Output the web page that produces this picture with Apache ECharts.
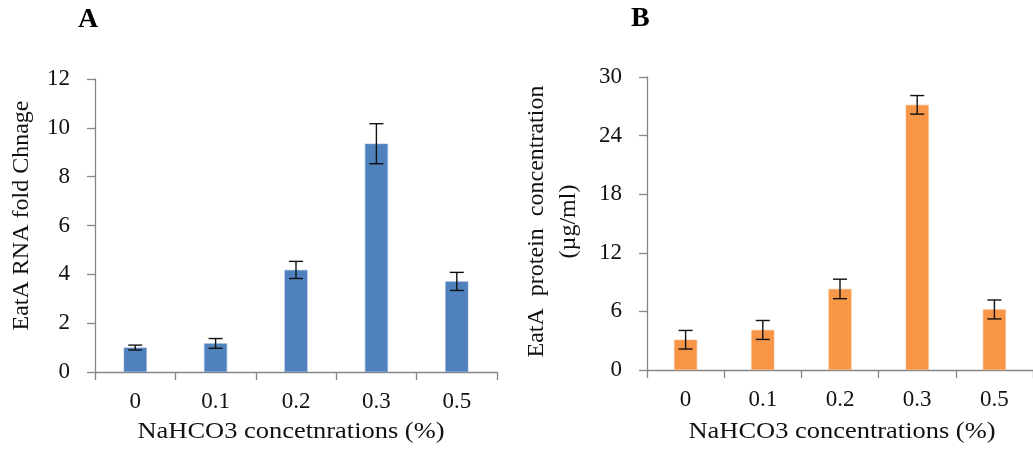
<!DOCTYPE html>
<html>
<head>
<meta charset="utf-8">
<script src="https://cdn.jsdelivr.net/npm/echarts@6/dist/echarts.min.js"></script>
<style>
  html, body { margin: 0; padding: 0; background: #fff; overflow: hidden; }
  #chart { width: 1033px; height: 450px; }
</style>
</head>
<body>
<div id="chart"></div>
<script>
// NaHCO3 concentrations (%)
const categories = ['0', '0.1', '0.2', '0.3', '0.5'];

// Panel A: EatA RNA fold change (mean and error)
const rnaFold = [1.0, 1.17, 4.18, 9.35, 3.71];
const rnaErr = [0.1, 0.2, 0.35, 0.82, 0.37];
const rnaAxisMax = 12;
const rnaAxisStep = 2;

// Panel B: EatA protein concentration in µg/ml (mean and error)
const proteinConc = [3.1, 4.1, 8.3, 27.15, 6.2];
const proteinErr = [0.95, 0.97, 1.0, 0.95, 0.97];
const proteinAxisMax = 30;
const proteinAxisStep = 6;

const FONT = '"Liberation Serif", "Times New Roman", serif';
const AXIS_GREY = '#868686';
const TEXT = '#111';

function xAxisFor(gridIndex) {
  return {
    type: 'category',
    gridIndex: gridIndex,
    data: categories,
    boundaryGap: true,
    axisLine: { show: true, lineStyle: { color: AXIS_GREY, width: 1.3 } },
    axisTick: { show: true, length: 8, alignWithLabel: false, lineStyle: { color: AXIS_GREY, width: 1.3 } },
    axisLabel: { fontFamily: FONT, fontSize: 23, color: TEXT, margin: 18, interval: 0 },
    splitLine: { show: false }
  };
}

function yAxisFor(gridIndex, max, step, name, nameGap, namePadding) {
  return {
    type: 'value',
    gridIndex: gridIndex,
    min: 0,
    max: max,
    interval: step,
    name: name,
    nameLocation: 'middle',
    nameGap: nameGap,
    nameTextStyle: { fontFamily: FONT, fontSize: 24, color: TEXT, lineHeight: 32, padding: namePadding },
    axisLine: { show: true, lineStyle: { color: AXIS_GREY, width: 1.3 } },
    axisTick: { show: true, length: 8, lineStyle: { color: AXIS_GREY, width: 1.3 } },
    axisLabel: { fontFamily: FONT, fontSize: 23, color: TEXT, margin: 25 },
    splitLine: { show: false }
  };
}

function errorBars(axisIndex, means, errs) {
  return {
    type: 'custom',
    xAxisIndex: axisIndex,
    yAxisIndex: axisIndex,
    z: 5,
    data: means.map((m, i) => [i, m - errs[i], m + errs[i]]),
    renderItem: function (params, api) {
      const x = api.value(0);
      const lo = api.coord([x, api.value(1)]);
      const hi = api.coord([x, api.value(2)]);
      const half = 7;
      const style = { stroke: '#111', lineWidth: 1.4 };
      return {
        type: 'group',
        children: [
          { type: 'line', shape: { x1: lo[0], y1: lo[1], x2: hi[0], y2: hi[1] }, style: style },
          { type: 'line', shape: { x1: hi[0] - half, y1: hi[1], x2: hi[0] + half, y2: hi[1] }, style: style },
          { type: 'line', shape: { x1: lo[0] - half, y1: lo[1], x2: lo[0] + half, y2: lo[1] }, style: style }
        ]
      };
    }
  };
}

// Horizontal axis titles, drawn slightly widened like the typeset figure
function axisTitle(text, cx, cy) {
  return {
    type: 'text',
    x: cx,
    y: cy,
    scaleX: 1.15,
    style: {
      text: text,
      font: '23px ' + FONT,
      fill: TEXT,
      align: 'center',
      verticalAlign: 'middle'
    }
  };
}

const chart = echarts.init(document.getElementById('chart'), null, { renderer: 'canvas' });

chart.setOption({
  backgroundColor: '#ffffff',
  animation: false,
  graphic: [
    { type: 'text', left: 78, top: 6, style: { text: 'A', font: 'bold 28px ' + FONT, fill: '#000' } },
    { type: 'text', left: 631, top: 5, style: { text: 'B', font: 'bold 28px ' + FONT, fill: '#000' } },
    axisTitle('NaHCO3 concetnrations (%)', 291, 432),
    axisTitle('NaHCO3 concentrations (%)', 842, 432)
  ],
  grid: [
    { left: 95, top: 79, width: 402, height: 293, containLabel: false },
    { left: 647, top: 77, width: 392, height: 293, containLabel: false }
  ],
  xAxis: [xAxisFor(0), xAxisFor(1)],
  yAxis: [
    yAxisFor(0, rnaAxisMax, rnaAxisStep, 'EatA RNA fold Chnage', 57, [0, 0, 0, 20]),
    yAxisFor(1, proteinAxisMax, proteinAxisStep, 'EatA  protein  concentration\n(µg/ml)', 62, [0, 0, 0, 4])
  ],
  series: [
    {
      type: 'bar',
      xAxisIndex: 0,
      yAxisIndex: 0,
      data: rnaFold,
      barWidth: 23,
      itemStyle: { color: '#4F81BD', borderColor: '#7fa3d1', borderWidth: 0.6 }
    },
    errorBars(0, rnaFold, rnaErr),
    {
      type: 'bar',
      xAxisIndex: 1,
      yAxisIndex: 1,
      data: proteinConc,
      barWidth: 23,
      itemStyle: { color: '#F79646', borderColor: '#f9b07a', borderWidth: 0.6 }
    },
    errorBars(1, proteinConc, proteinErr)
  ]
});
</script>
</body>
</html>
